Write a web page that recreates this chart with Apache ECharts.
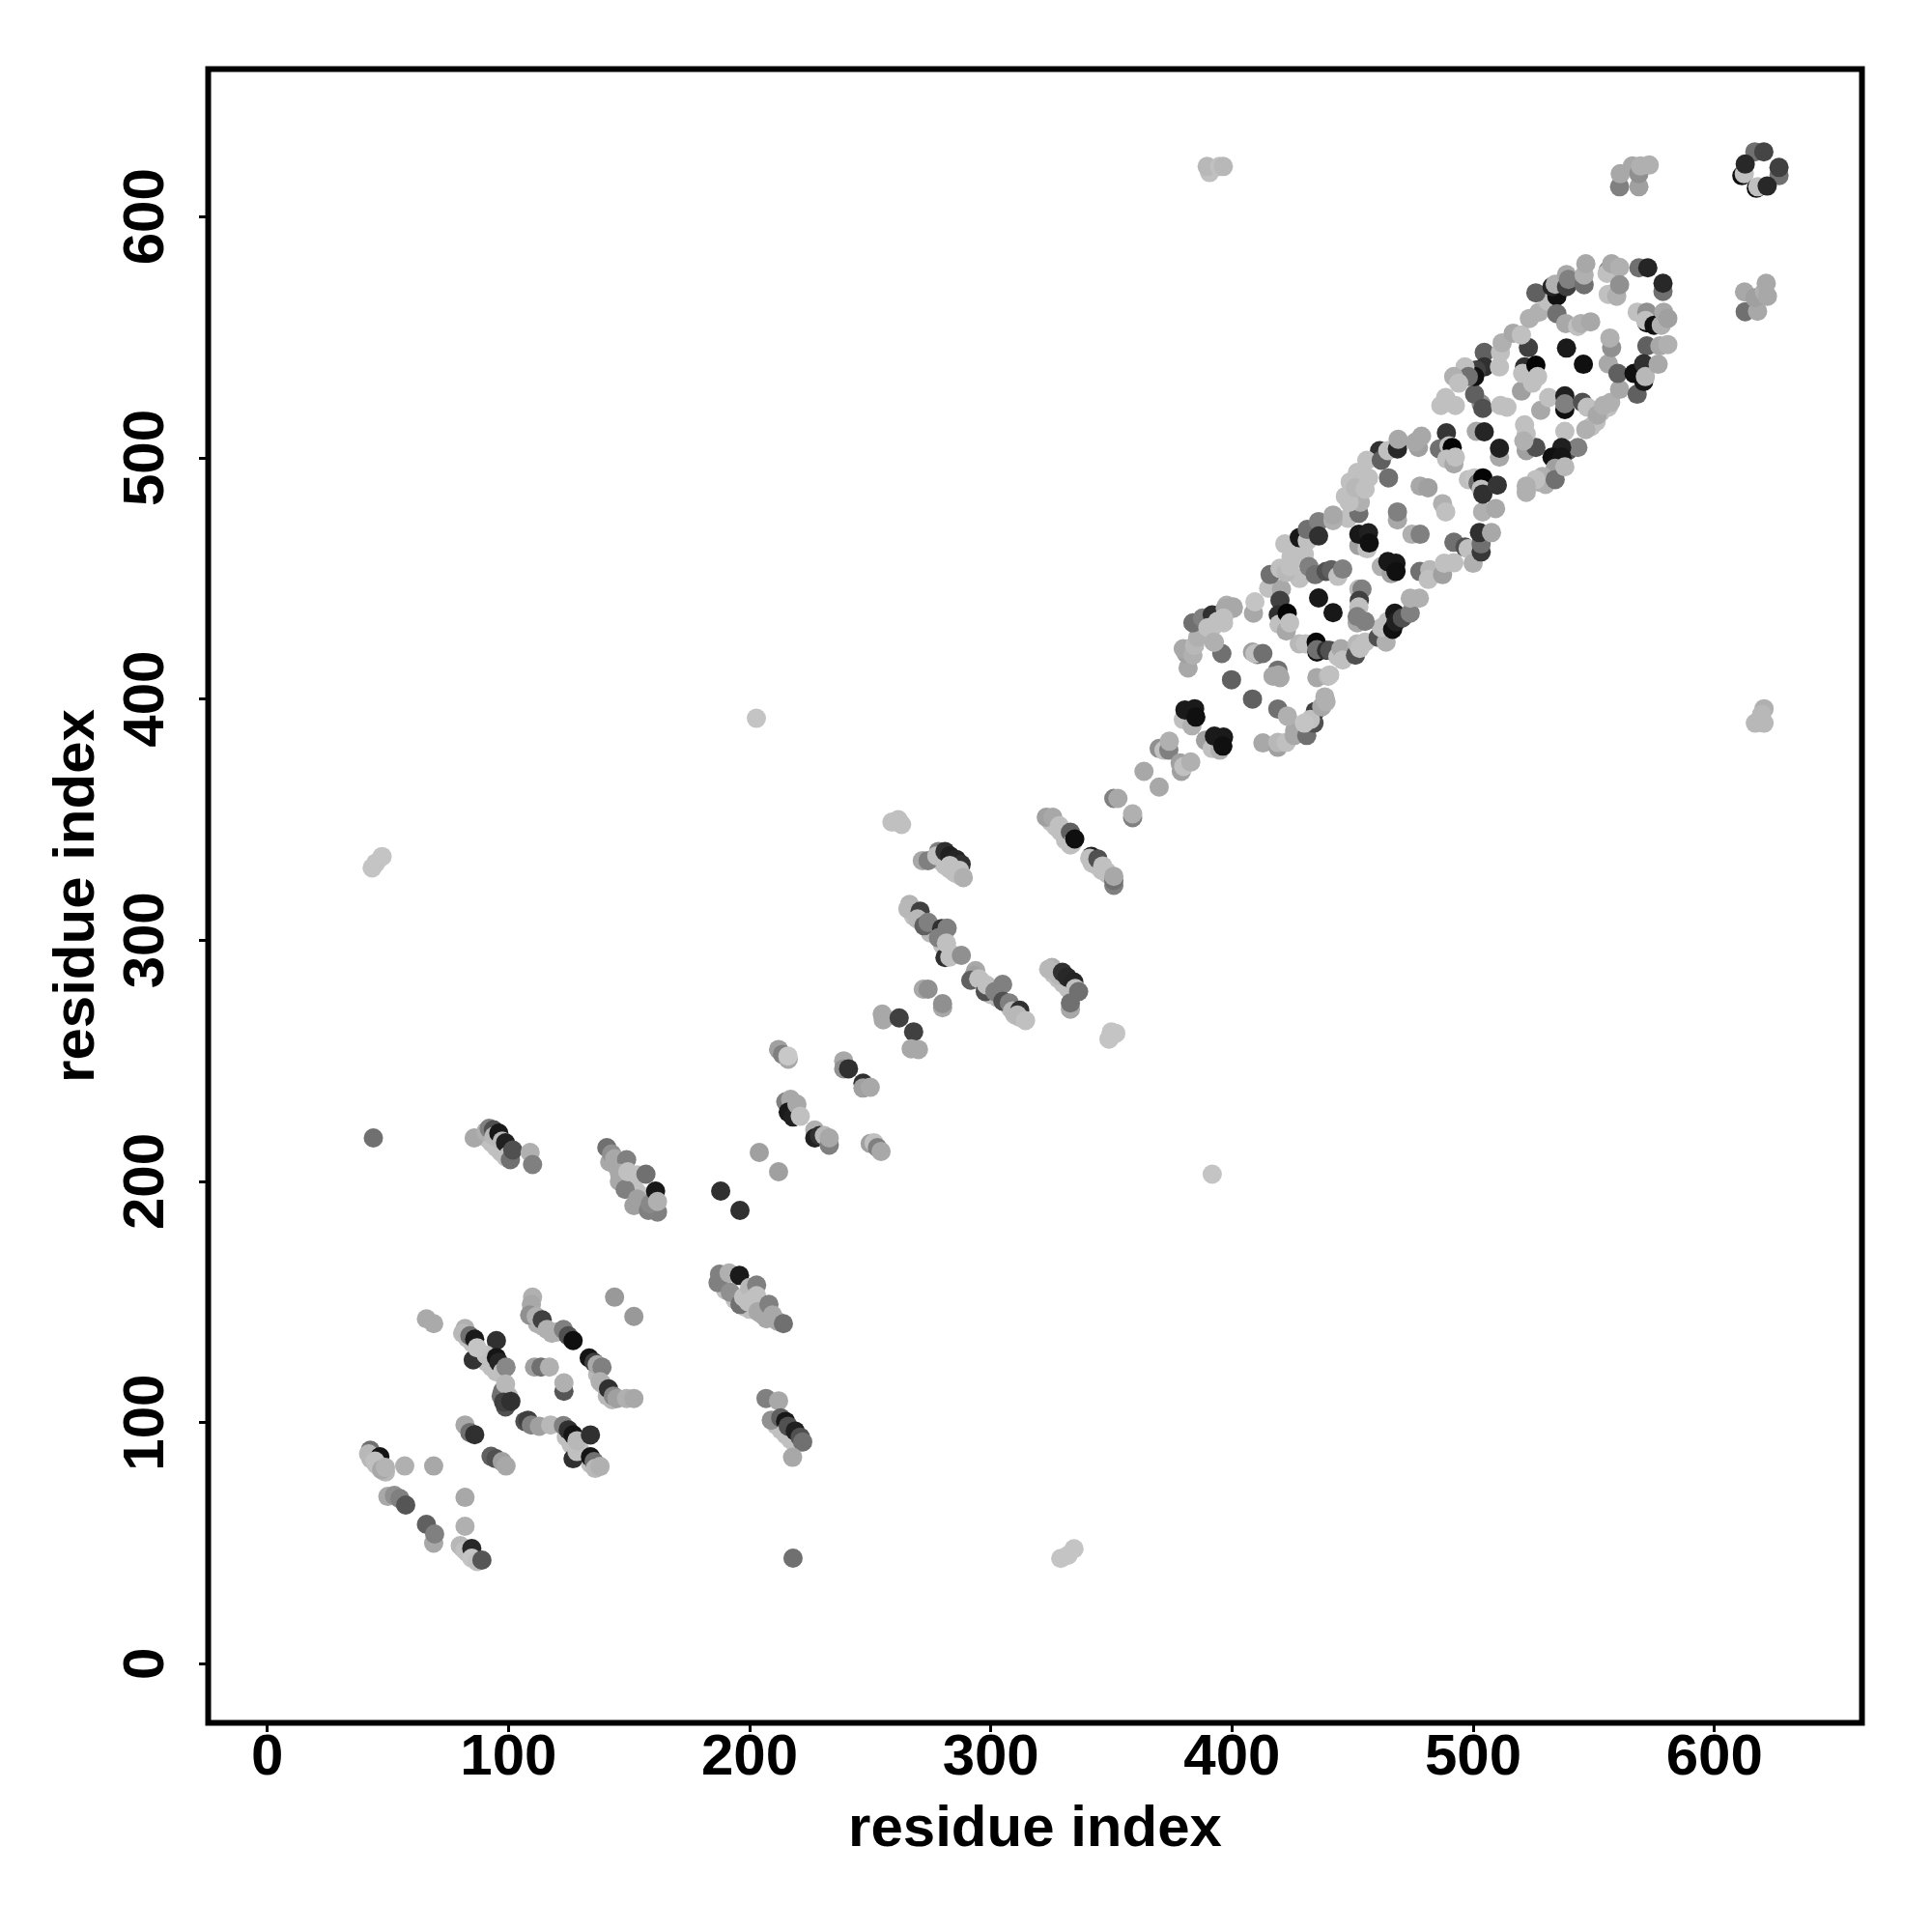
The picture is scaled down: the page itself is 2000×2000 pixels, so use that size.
<!DOCTYPE html>
<html><head><meta charset="utf-8">
<script src="https://cdn.jsdelivr.net/npm/echarts@6/dist/echarts.min.js"></script>
<style>html,body{margin:0;padding:0;background:#fff}#c{width:2000px;height:2000px}</style>
</head><body><div id="c"></div>
<script>
const tickValues=[0,100,200,300,400,500,600];
const axisTitle="residue index";
// each point: [residue x, residue y, gray level], back to front
const lightContacts=[
[279,333,0xc0],[281,331,0xc0],[283,329.5,0xc0],[285,328,0xc0],[287,327,0xc0],
[267,312,0xc0],[268,310,0xc0],[271,308,0xc0],[275,303,0xb8],[280,298,0xc0],[282,296,0xc0],[284,294,0xc0],
[296,283,0xc0],[298,280,0xc0],[300,277.5,0xc0],[303,276,0xb8],[308,272,0xc0],[310,269,0xc0],[312,268,0xc0],
[326,286,0xc0],[328,284,0xc0],[330,282,0xc0],[332,280,0xc0],[334,278.5,0xc0],
[325,349,0xc0],[327,347,0xc0],[329,345,0xc0],[331,341.5,0xc0],[333,339.5,0xc0],[342,332,0xc0],[344,331,0xc0],[346,329,0xc0],[348,328.5,0xc0],
[83,135,0xc0],[85,133,0xc0],[87,129,0xc0],[89,127,0xc0],[91,125,0xc0],[93,123,0xc0],[95,121,0xc0],
[112,141,0xb0],[114,140,0xb0],[118,137,0xb0],[120,137.5,0xb0],[137,120,0xb8],[139,116,0xb8],[141,111,0xb8],[143,109.5,0xb8],[100,111,0xb8],[97,111,0x70],
[124,94,0xc0],[126,91,0xc0],[128,90,0xc0],[130,88,0xc0],[132,86,0xc0],[134,83,0xc0],
[43,85,0xb8],[45,83,0xb8],[47,81,0xb8],[49,79.5,0xb8],[81,48,0xc0],[83,46,0xc0],[85,44,0xc0],
[91,218,0xc0],[93,216,0xc0],[95,214,0xc0],[97,212,0xc0],[99,210,0xc0],
[142,208,0xa8],[145,206,0xa8],[146,200,0xa8],[148,199,0xa8],[151,198,0xc0],[153,196,0xc0],[155,194,0xc0],[157,192,0xc0],[152,190,0xa0],
[190,155,0xc0],[194,151,0xc0],[198,148,0xc0],[200,147,0xc0],[202,147,0xc0],[205,145,0xa8],[207,143,0xa8],
[211,99,0xc0],[213,97,0xc0],[215,95,0xc0],[217,93,0xc0],[219,91,0xc0],
[430,460,0xc0],[426,462,0xc0],[424,456,0xc0],[428,450,0xc0],[448,475,0xc0],[450,478,0xc0],[447,484,0xc0],[449,490,0xc0],[452,494,0xc0],
[428,388,0xa8],[426,387,0xa8],[527,490,0xb0],[530,489,0xb0],[549,513,0xc0],[551,515,0xc0],[553,519,0xc0],[556,521,0xc0]
];
const lowCluster=[
[144,152,0x99],[152,144,0x99],[66,143,0xaa],[69,141,0xaa],
[82,139,0xb0],[81,137,0xb8],[84,136,0x70],[85.4,126,0x33],[86,134.6,0x1a],[95,134,0x30],[90.8,128,0xc0],[87,131,0xc4],[95,127,0x15],[96,125,0x25],[97.5,121,0xc0],[99,123,0x88],
[110,152,0xb0],[109.5,149,0xa8],[108.8,144.6,0x90],[111.5,144,0xb0],[114,142.6,0x40],[116,138.6,0xb0],[122.8,138.6,0x80],[124.8,136,0x50],[126.8,134,0x0f],[133.5,126.8,0x15],[135.5,125,0x40],[136.8,124,0xa8],[138.8,123,0x80],[138,117,0xb0],[141.5,114,0x30],[143.5,111,0x88],[145,110,0xa0],[149,110,0xb0],[152,110,0xa8],
[110.8,123,0xa0],[113.5,123,0x70],[117,123,0xb0],[123,113,0x55],[123,116.5,0xb0],
[97.5,113,0x70],[98.8,116,0xb8],[98.8,106.5,0x50],[98,108.5,0x40],[101,108.8,0x30],
[106.8,100.5,0x50],[108.1,101,0x40],[109.5,99,0x80],[112.8,98.5,0xa0],[117.5,99,0xb8],[122.8,98.8,0x80],[124.8,97,0x30],[126.8,95,0x15],[126.8,85,0x30],[128.4,88,0xc0],[128.4,92.5,0xb8],[134,94.9,0x30],[134,85.8,0x15],[135.5,83.8,0x70],[136,81,0xb8],[138,81.8,0xb0],
[82,99,0xa8],[84,95.9,0x70],[86,95,0x30],[92.8,86,0x60],[94.8,85,0x50],[97.4,83.8,0xa0],[99,82,0xa8],[57,82,0xb0],[69,82,0xa8],
[42.7,88.5,0x70],[42,87,0xb8],[46.7,85.8,0x15],[44.7,84,0xc0],[45.4,82.5,0xc0],[47.4,80.5,0xa8],[49,81.4,0xb4],
[82,69,0xa8],[50,69.4,0xa8],[52.7,69.8,0x90],[55,68.5,0x80],[57.4,65.8,0x55],[66,57.8,0x60],[69,50,0xa8],[69.4,53.8,0x80],[82,57,0xb0],
[80,49,0xb8],[82,47,0xc0],[84.8,47.8,0x28],[84.8,43.8,0xc4],[87,42.4,0xc0],[89,43,0x55]
];
const midLower=[
[187.5,161.5,0x80],[186.9,158,0x80],[191.5,162,0xb0],[192,154,0x90],[195.8,161,0x1a],[196,149,0x70],[197.5,152,0xc0],[200,156,0xb8],[202.9,157,0x80],[199.5,150,0xc0],[202.9,152.6,0xc0],[203.5,146,0xa8],[208,149,0x80],[209.5,144.6,0xa8],[211.6,142,0xa8],[214,141,0x70],
[206.8,110,0x80],[212,109,0xa8],[209,101,0x90],[212.9,102,0x60],[214.9,100.5,0x18],[214.9,96,0xc0],[216,98.5,0x50],[218.9,96.5,0x20],[221,94,0x50],[222,92,0x70],[217.8,85.6,0xa8],[218,43.8,0x70],
[85.8,218,0xa8],[90.7,220.7,0xb0],[92,222,0x80],[93.8,221.4,0x50],[94,218.7,0xb8],[96,220,0x18],[97.4,216.7,0xb8],[98.8,216,0x20],[100,210.7,0xc0],[100.8,209,0x70],[101.8,213,0x50],[109,212,0xb0],[110,207,0x80],
[140.8,214,0x70],[142.8,211.4,0x90],[144,209.4,0xa8],[149,209,0x80],[146,203.4,0xa8],[148.4,196.7,0x80],[149.5,204,0xc0],[153.5,202.7,0xc0],[157,203,0x70],[153.5,192.7,0xa0],[158,188,0x80],[161.8,187.3,0x80],[158.8,190.7,0x88],[161,196,0x18],[161.8,191.7,0xb0]
];
const isolated=[
[44,218,0x70],[43.5,330,0xc4],[45,332,0xc4],[47.6,334.7,0xc4],[329,43.7,0xc4],[332,45,0xc4],[334.5,47.7,0xc4],[202.8,392,0xc4],[391.8,203,0xc4],
[390.7,618.3,0xc0],[389.7,620.8,0xb8],[394.8,620.8,0xc0],[396.4,620.8,0xb8],[617,390,0xb8],[620.6,396,0xb0],[620.6,390,0xb8],[619.6,393.6,0xb8],
[188,196,0x30],[196,188,0x30],[204,212,0xa0],[212,204,0xa0]
];
const midBand=[
[212,254.7,0xa0],[213.6,252.7,0x80],[216,250.7,0xa8],[215.9,252,0xc8],
[239,250,0xa8],[239,246.7,0x90],[241,246.7,0x30],[247,240.7,0x30],[247,238.7,0xa0],[250,239,0xa8],
[268,262,0x40],[267,255,0xa8],[270,254.7,0xa8],
[215,233,0x80],[217,234,0xa8],[216,228.7,0x1a],[218,226.7,0x20],[219.6,232,0xa8],[221,227,0xc0],
[227,221.3,0xb0],[227,218,0x20],[229,219,0x30],[231,219,0xb8],[233,215,0x80],[233,218,0xa8],
[250,215.7,0xa0],[251.6,216,0xc0],[253,214,0x80],[254.5,212.4,0xa8],
[259,349,0xc0],[261.6,350,0xc0],[263,348,0xc0],
[271.6,333,0xa8],[274,333,0x80],[278.3,336.8,0x80],[277.6,335,0xc0],[281,336.8,0x30],[283,335,0x20],[285.7,333.5,0x25],[287.7,331.5,0x30],[283,331,0xc0],[287,329,0xc0],[288.6,326,0xb0],
[266.3,314.8,0xb4],[265.6,313,0xb8],[270.7,312,0x40],[269.6,308.8,0xb8],[272.3,306,0x60],[274,307.4,0x80],[279.6,304.8,0x30],[281.9,305,0x80],[278.3,301,0x80],[281,292.8,0x30],[281.6,298.8,0xc0],[283,293,0xc0],[287.8,293.7,0x90],
[293.7,287.4,0xa8],[293,285.4,0xa0],[291.7,283.4,0x60],[295,284,0xc0],[297.7,278.7,0x50],[298.3,281.4,0xc0],[301.7,278.7,0x80],[304.9,281.7,0x80],[305,274.7,0x50],[307.7,274,0x80],[309,270.7,0xb8],[312,271,0x30],[311,269,0xb8],[314.4,266.7,0xc0],
[325.4,288.7,0xb0],[324,288,0xb8],[328.4,285.4,0xb8],[329.7,286.7,0x30],[331.7,284.7,0x28],[334.4,282.7,0x25],[335,280,0xc0],[336.4,278.7,0x70],[333,271.4,0xa8],[333,274,0x70],
[272,279.7,0xa8],[274,279.7,0x90],[280,272,0xa8],[280,273.7,0x90],[255,269.4,0xa8],[255.4,267,0xa8],[262,267.8,0x40],
[349,259,0xc4],[350,262,0xc4],[351.8,261.4,0xc4],
[323,351,0xa0],[325.7,351,0xa8],[328.4,347.5,0xc0],[331,343,0xc0],[333,344.8,0x60],[333.7,340,0xc0],[334.8,342,0x0f],
[341.7,334.8,0x20],[341,334,0xc0],[344.4,333.7,0x50],[346.4,330.8,0xc0],[348.4,327.5,0xc0],[351,322.8,0x80],[351,324.8,0x70],[351,326.5,0xa8],
[351,358.8,0x80],[352.7,358.8,0xa8],[358.8,350.8,0x80],[358.8,352.4,0xb0],[363.5,370,0xa8],[369.8,363.5,0xa8]
];
const gapBand=[
[369.8,379.5,0x90],[371.8,378.8,0xc0],[373.8,378.8,0x80],[374,382.5,0xb0],
[379,370,0xa0],[378.5,373.5,0xa0],[380,372,0xc0],[382.9,373.9,0xb0],
[379.8,391.5,0xc0],[383.4,388.9,0xb0],[380.5,395.5,0x1a],[384.5,396,0x1a],[385,392.5,0x10],
[389,382.9,0xa0],[391.8,379.5,0xc0],[395,378.8,0xb0],[392.7,384.6,0x1a],[396.5,384.2,0x1a],[396.2,380.5,0x10],
[412.8,381.8,0xa8],[419,380,0xa0],[419,382,0xb8],[422.5,382,0xc0],[425.8,384.9,0xa8],[431,384.9,0x70],[419,395.9,0x70],[423,392.9,0xb0],[408.5,400,0x60],[399.8,408,0x60],[395.8,418.9,0x70],[392.7,423.6,0xb0],
[434,390,0x50],[434.5,394.9,0x40],[432.5,391.5,0xc0],[430,390,0xc4],[437.2,396.8,0xa8],[438.5,400.9,0xb0],[439,398.9,0xb0]
];
const lowerArc=[
[381.8,412.9,0xa8],[381,418.9,0xa0],[379.8,420.9,0xa8],[383.8,418.2,0xb0],[384.5,422.2,0xb8],[385.8,425.6,0xb0],[385,430.9,0x70],[387,428.2,0xb0],[389.8,433.6,0x70],[391.8,429.6,0xc0],[393,434.3,0x30],[396.5,431.6,0xc0],[397.8,438.9,0xb0],[400.5,437.6,0xa8],
[408.9,435.6,0xa8],[409.5,440.3,0xc4],[408.5,419.5,0xa0],[410.5,418.5,0x70],[409.5,418.8,0xc0],[412.8,418.9,0x70],
[419,412,0x70],[419.2,410,0xa8],[417,409.5,0xa8],[419.9,408.9,0xa8],
[435.2,408.9,0xa8],[439.9,409.5,0xb8],[440.5,410,0xc0],
[427.9,422.9,0xb8],[430.5,422.9,0xc0],[434.9,423.6,0x08],[435.2,419.5,0x10],[435.2,420.5,0x70],[439.2,420.2,0x30],[440.5,420.2,0x50],[443.9,417.6,0xc0],[445.2,420.9,0xa8],[445.9,416.2,0xc0],
[451.2,418.2,0x50],[451.9,422.9,0xb8],[453,421,0xc0],[455.2,423.6,0xc0],[460.6,425.6,0x50],[463.9,423.6,0xb0],[461.9,429.6,0xc0],[464.6,432.2,0xc0],
[467.5,435.6,0x18],[466.6,428.9,0x10],[468,432,0x20],[470.6,433.6,0x50],[473.9,435.6,0x80],[473.9,441.8,0xb0],[477.7,441.8,0xb0],
[452.6,445.6,0xb8],[453.9,445.6,0x80],[452.8,440.9,0x40],[452.6,438.2,0xc0],[451.9,431.6,0xa8],[451.9,434.2,0x80],[455.2,432.2,0x80],
[435.9,441.9,0x18],[441.9,435.8,0x18]
];
const upperArc=[
[383.8,431.6,0x70],[387.8,433.6,0x80],[391.8,434.9,0x30],[390,429.6,0xc0],[394,432.2,0xc0],[397.2,437.6,0xa8],[400.5,438.2,0xa8],[396.5,433.6,0xc0],[392.5,423.6,0xb0],
[415.2,445.9,0xc0],[420.5,445.6,0xa8],[419.9,440.9,0x40],[415.8,451.6,0x70],[419.9,454.2,0xc0],[422.5,452.5,0xb8],[423.9,454.9,0xc0],[419.2,434.9,0x30],[419.5,431,0xc0],[422.5,428.2,0xa8],[422.9,435.6,0x05],[423.9,431.6,0xc0],
[421.9,464.3,0xc0],[424.5,458.9,0xc0],[427.9,466.9,0x18],[431.2,465.6,0xc0],[431.2,470.3,0x70],[435.9,473.6,0x80],[435.9,467.6,0x30],[431.9,454.9,0x80],[434.5,451.6,0x70],[439,452.9,0x50],[441.2,453.6,0x60],[443.9,450.9,0xc0],[445.9,453.9,0x80],[441.9,474,0xb0],[441.9,476.3,0xa8],
[452.6,477,0x70],[453.2,481.6,0xb0],[448.6,481.6,0xc0],[451.2,487.6,0xb8],[455.2,487,0xc0],[456.6,491.7,0xc0],[461.2,503,0x30],[455.9,499,0xc0],[461.9,499,0x60],[464.9,491.7,0x70],[464.6,503,0xc0],[468.6,503.7,0x28],[468.9,507.7,0xa8],[477.3,504.3,0xa0],[476,506.5,0xa8],[478.6,509,0xa8],
[452.6,463.6,0xa0],[456,462.3,0xc0],[452.6,468.3,0x18],[456.6,468.9,0x20],[456.9,464.7,0x10],
[468.6,474.3,0xa8],[468.6,477.6,0x80],[474.6,468.3,0xb0],[478,468.3,0x80],
[461.9,454.9,0xb0],[466,452,0xa0],[464.6,457,0x18],[468,456.3,0x18],[468,452.9,0x10],
[477.9,452.9,0x70],[482,453.6,0xb8],[481.4,449.6,0xc0],[487.3,451.6,0xa0],[488,456.3,0xc0],[492,456.5,0xc0],[492,465,0x70],[496.6,463,0x50],[497.9,462.3,0xc0],[500,456.3,0xb0],[503.3,461,0x38],[503.3,464.3,0x70],[502.6,469,0x30],[507.6,469,0xa8],
[478,488.3,0xa8],[481.3,487.6,0xa0],[487.3,481,0xb0],[488.6,477.6,0xc0],[503.9,477.6,0xb0],[509.3,479,0xa8]
];
const midRing=[
[488.9,510.4,0x35],[486,503.7,0x70],[490,505,0xc0],[491.3,504.3,0x05],[489,499.5,0xc0],[492,497.5,0xa8],[492.6,500.3,0xc0],
[501.3,511,0xa8],[504.6,510.8,0x25],[510.9,500.3,0xa8],[510.9,504,0x20],
[498,491,0xc0],[500.6,491.7,0xc4],[502,489.5,0x70],[504,491.7,0x05],[503.3,487,0xc0],[504,485,0x30],[510,488.7,0x35]
];
const upperBand=[
[503.3,522.4,0x90],[500.6,526.4,0x60],[504,520.5,0x50],[511.3,521.7,0xc0],[514,521,0xc0],[520,527.7,0xa0],[528,519.7,0xa8],[531.3,525,0xc0],[538,525.7,0x20],[538,520,0x10],[538,522.4,0x80],[545.3,523,0x50],[547.3,521,0xc0],[551.4,517.7,0xa8],[554,521.7,0xb0],[557,523,0xb0],[556,539,0xa8],[560.7,528.4,0xa8],[560,535,0x60],[557.4,545.7,0x90],[556.7,549.7,0xb0],
[538.7,545.5,0x1a],[545.7,538.8,0x10],
[522.9,545.7,0x40],[521.3,537.7,0x30],[520.5,535,0xc0],[526,538.4,0x05],[526.7,533.7,0xc0],[524.6,531,0xc0],
[538,511,0xc0],[546.7,511.7,0xb0],[539.3,503,0x50],[543.4,504.3,0x80],[536.7,504.3,0x20],[532.7,500.3,0x10],[536.7,500.3,0x15],[534,495.7,0xa0],[528.7,492.3,0xb0],[526,491,0xc0],[522,488.3,0xb0],[522,485.7,0xb0],[534,491,0x70],[538,496.3,0xb8],[522,503,0xa0],[526,504.3,0x50],[521.3,513.7,0xc0],[522,510,0xc0],[521,507,0xb0],
[504.6,543.7,0x60],[504.6,537.7,0x30],[501.3,536.4,0x40],[500.6,533.7,0x10],[496.6,537.7,0xc0],[498,533.7,0x70],[511.3,543.7,0xc0],[512,547.7,0xb0],[510.9,537.7,0xc0],[491.9,533.7,0xb0],[494,531,0xc0],[488.6,525,0xc0],[486.6,521.7,0xc0],[492.6,521.7,0xc0],
[516.6,551.7,0xa8],[520,551,0xc0],[523.3,557.8,0xb0],[527.3,560.4,0xb0],[531,565,0xc0],[526,568.4,0x60],[534.7,567,0x10],[532.7,571,0x25],[534,572,0xb0],[538.7,571,0x40],[538.7,576,0xa8],[539.5,574,0x80],[546,571.8,0x70],[546,575.8,0xb0],[546.7,580.5,0xa8],
[534.7,559.8,0x70],[538.4,555.7,0xa8],[543.3,554.5,0xc0],[544.7,555.7,0xb0],[548.7,556.4,0xa8],
[556,577.8,0x80],[555.5,576.5,0xc0],[557.4,580.5,0xa8],[560.7,579,0xb0],[556,567.8,0xc0],[559.5,567,0xb0],[560.7,571.8,0x90],
[568.7,578.8,0x70],[572.4,578.8,0x25],[578.7,569,0x70],[578.7,572.4,0x28],
[568,560.4,0xc0],[572,556,0x10],[572,560.4,0x90],[571.5,557,0xc0],[575,555,0x10],[578,555,0xb0],[579,560.4,0xa8],[580.7,557.8,0xa0],
[572,546.4,0x60],[577.4,546.4,0xa8],[580.7,547,0xb0],
[568,526.4,0x60],[570.7,531.7,0x18],[566.7,535,0x10],[570.7,539,0x30],[571.4,533.7,0xb8],[576.7,538.8,0xa8]
];
const farCorner=[
[560.7,612.4,0x80],[568.7,612.4,0xa0],[561,617.8,0xa8],[566,621,0xa8],[568.7,617.8,0x90],[569.4,621,0xb0],[573,621.4,0xb0],
[616.8,626.9,0x70],[620.5,626.9,0x45],[626.8,617,0x70],[626.8,620.4,0x40],[611.4,617,0x10],[612.4,617.8,0xc0],[612.8,621.8,0x28],[617.4,611.8,0x10],[618,612.4,0xc0],[621.9,612.7,0x28],
[612.5,568.8,0xa8],[612.8,560.6,0x70],[617.9,560.8,0xa8],[616.8,566.4,0xa0],[620.8,569,0xb0],[622,567,0xa8],[621.5,572.4,0xa8]
];
const allPoints=[].concat(lightContacts,lowCluster,midLower,isolated,midBand,gapBand,lowerArc,upperArc,midRing,upperBand,farCorner);
const hex=g=>'rgb('+g+','+g+','+g+')';
const font='"Liberation Sans",Arial,sans-serif';
const makeAxis=(rotate,margin,gap)=>({
  type:'value',min:-24.5,max:661.2,
  name:axisTitle,nameLocation:'middle',nameGap:gap,
  nameTextStyle:{fontFamily:font,fontWeight:'bold',fontSize:60,color:'#000'},
  splitLine:{show:false},
  axisLine:{show:false,onZero:false},
  axisTick:{show:true,inside:false,length:9.5,lineStyle:{color:'#000',width:3},customValues:tickValues},
  axisLabel:{show:true,rotate:rotate,margin:margin,fontFamily:font,fontWeight:'bold',fontSize:60,color:'#000',customValues:tickValues,
    formatter:v=>String(v)}
});
const chart=echarts.init(document.getElementById('c'),null,{renderer:'canvas'});
chart.setOption({
  animation:false,backgroundColor:'#fff',
  grid:{left:215.5,top:71.5,width:1712,height:1712,show:true,borderColor:'#000',borderWidth:6,backgroundColor:'transparent',containLabel:false},
  xAxis:makeAxis(0,7,81),
  yAxis:makeAxis(90,33,105),
  series:[{type:'scatter',data:allPoints,symbol:'circle',symbolSize:20,large:false,progressive:0,clip:false,
    itemStyle:{opacity:1,color:p=>hex(p.value[2])},silent:true,emphasis:{disabled:true}}]
});
</script></body></html>
